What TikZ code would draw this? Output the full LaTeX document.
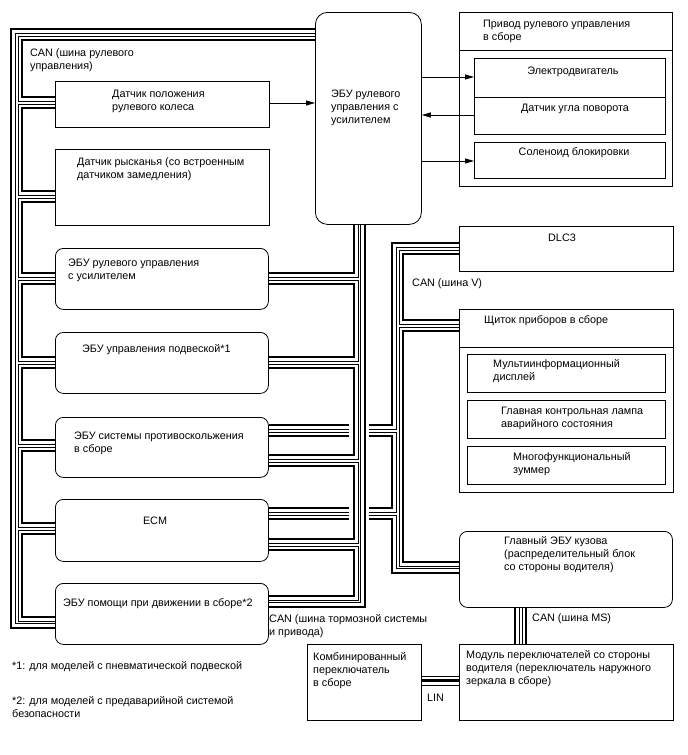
\documentclass[tikz,border=0pt]{standalone}
\usepackage{fontspec}
\setmainfont{Liberation Sans}
\usetikzlibrary{arrows.meta}
\begin{document}
\begin{tikzpicture}[x=1pt,y=-1pt,
  box/.style={draw,line width=0.8pt,inner sep=0pt,anchor=north west},
  rbox/.style={box,rounded corners=8pt},
  txt/.style={font=\fontsize{10.8}{12.8}\selectfont,align=left,inner sep=0pt,anchor=base west},
  ctxt/.style={font=\fontsize{10.8}{12.8}\selectfont,inner sep=0pt,anchor=base},
  thk/.style={line width=2.2pt},
  thn/.style={line width=0.7pt},
  arr/.style={line width=0.8pt,-{Triangle[length=9pt,width=5pt]}},
]
\useasboundingbox (0,0) rectangle (688,755);
\fill[white] (0,0) rectangle (688,755);

% ---------- boxes ----------
\node[box,rounded corners=12pt,minimum width=106pt,minimum height=212pt] (ecuS) at (315,12) {};
\node[box,minimum width=213pt,minimum height=174pt] (act) at (459,12) {};
\node[box,minimum width=191pt,minimum height=39pt] (motor) at (474,58) {};
\node[box,minimum width=191pt,minimum height=37pt] (angle) at (474,97) {};
\node[box,minimum width=191pt,minimum height=36pt] (sol) at (474,142) {};
\node[box,minimum width=214pt,minimum height=46pt] (sw) at (55,81) {};
\node[box,minimum width=214pt,minimum height=76pt] (yaw) at (55,149) {};
\node[rbox,minimum width=213pt,minimum height=61pt] (ps) at (55,248) {};
\node[rbox,minimum width=213pt,minimum height=61pt] (susp) at (55,332) {};
\node[rbox,minimum width=213pt,minimum height=60pt] (abs) at (55,417) {};
\node[rbox,minimum width=213pt,minimum height=62pt] (ecm) at (55,499) {};
\node[rbox,minimum width=213pt,minimum height=61pt] (drv) at (55,583) {};
\node[box,minimum width=214pt,minimum height=45pt] (dlc) at (459,226) {};
\node[box,minimum width=214pt,minimum height=183pt] (meter) at (459,309) {};
\node[box,minimum width=198pt,minimum height=38pt] (multi) at (467,354) {};
\node[box,minimum width=198pt,minimum height=38pt] (lamp) at (467,400) {};
\node[box,minimum width=198pt,minimum height=38pt] (buzz) at (467,446) {};
\node[rbox,minimum width=213pt,minimum height=76pt] (body) at (459,531) {};
\node[box,minimum width=214pt,minimum height=76pt] (swmod) at (459,644) {};
\node[box,minimum width=114pt,minimum height=76pt] (comb) at (307,644) {};
\draw[line width=0.8pt] (act.west|-0,50) -- (act.east|-0,50);
\draw[line width=0.8pt] (meter.west|-0,347) -- (meter.east|-0,347);

% ---------- texts (base = baseline of last line) ----------
\node[txt] (tCanS) at (30,69.5) {CAN (шина рулевого\\управления)};
\node[txt] (tEcuS) at (331,123.5) {ЭБУ рулевого\\управления с\\усилителем};
\node[txt] (tAct) at (483,40.5) {Привод рулевого управления\\в сборе};
\node[ctxt] (tMotor) at (573,74) {Электродвигатель};
\node[ctxt] (tAngle) at (575,111) {Датчик угла поворота};
\node[ctxt] (tSol) at (574,155) {Соленоид блокировки};
\node[txt] (tSw) at (112,110.5) {Датчик положения\\рулевого колеса};
\node[txt] (tYaw) at (77,178) {Датчик рысканья (со встроенным\\датчиком замедления)};
\node[txt] (tPs) at (68,279) {ЭБУ рулевого управления\\с усилителем};
\node[txt] (tSusp) at (82,352) {ЭБУ управления подвеской*1};
\node[txt] (tAbs) at (74,452.5) {ЭБУ системы противоскольжения\\в сборе};
\node[ctxt] (tEcm) at (155,524) {ECM};
\node[txt] (tDrv) at (63,606) {ЭБУ помощи при движении в сборе*2};
\node[txt] (tCanB) at (269,635) {CAN (шина тормозной системы\\и привода)};
\node[txt] (tFn1) at (12,669) {*1: для моделей с пневматической подвеской};
\node[txt] (tFn2) at (12,717) {*2: для моделей с предаварийной системой\\безопасности};
\node[ctxt] (tDlc) at (562,241) {DLC3};
\node[txt] (tCanV) at (412,286) {CAN (шина V)};
\node[txt] (tMeter) at (484,323) {Щиток приборов в сборе};
\node[txt] (tMulti) at (493,380) {Мультиинформационный\\дисплей};
\node[txt] (tLamp) at (501,427.5) {Главная контрольная лампа\\аварийного состояния};
\node[txt] (tBuzz) at (513,473.5) {Многофункциональный\\зуммер};
\node[txt] (tBody) at (504,570.5) {Главный ЭБУ кузова\\(распределительный блок\\со стороны водителя)};
\node[txt] (tCanMS) at (532,621) {CAN (шина MS)};
\node[txt] (tSwmod) at (466,684) {Модуль переключателей со стороны\\водителя (переключатель наружного\\зеркала в сборе)};
\node[txt] (tComb) at (313,686.5) {Комбинированный\\переключатель\\в сборе};
\node[txt] (tLin) at (427,701) {LIN};

% ---------- arrows ----------
\draw[arr] (sw.east|-0,103) -- (ecuS.west|-0,103);
\draw[arr] (ecuS.east|-0,77) -- (motor.west|-0,77);
\draw[arr] (angle.west|-0,115) -- (ecuS.east|-0,115);
\draw[arr] (ecuS.east|-0,161) -- (sol.west|-0,161);

% ---------- left bus (steering CAN) ----------
\draw[thk] (ecuS.west|-0,29) -| (11,628) -- (drv.west|-0,628);
\draw[thn] (ecuS.west|-0,33.5) -| (15.5,623.5) -- (drv.west|-0,623.5);
\draw[thn] (ecuS.west|-0,36) -| (18,101.5) -- (sw.west|-0,101.5);
\draw[thk] (ecuS.west|-0,40) -| (22,97) -- (sw.west|-0,97);
\foreach \a/\b/\s/\t in {sw/yaw/97/191, yaw/ps/191/273, ps/susp/273/357, susp/abs/357/440, abs/ecm/440/523}{
  \draw[thn] (\a.west|-0,\s+7) -| (18,\t+4.5) -- (\b.west|-0,\t+4.5);
  \draw[thk] (\a.west|-0,\s+11) -| (22,\t) -- (\b.west|-0,\t);
}
\draw[thn] (ecm.west|-0,530) -| (18,621) -- (drv.west|-0,621);
\draw[thk] (ecm.west|-0,534) -| (22,617) -- (drv.west|-0,617);

% ---------- middle bus (brake / drive CAN) ----------
\draw[thk] (ecuS.south-|365,0) |- (drv.east|-0,607);
\draw[thn] (ecuS.south-|360.5,0) |- (drv.east|-0,602.5);
\draw[thn] (ecuS.south-|358,0) |- (ps.east|-0,277.5);
\draw[thk] (ecuS.south-|354,0) |- (ps.east|-0,273);
\foreach \a/\b/\s/\t in {ps/susp/273/357, susp/abs/357/455, abs/ecm/455/539}{
  \draw[thn] (\a.east|-0,\s+7) -| (358,\t+4.5) -- (\b.east|-0,\t+4.5);
  \draw[thk] (\a.east|-0,\s+11) -| (354,\t) -- (\b.east|-0,\t);
}
\draw[thn] (ecm.east|-0,546) -| (358,600) -- (drv.east|-0,600);
\draw[thk] (ecm.east|-0,550) -| (354,596) -- (drv.east|-0,596);

% ---------- right bus (CAN V) ----------
\draw[thk] (dlc.west|-0,254) -| (403,320) -- (meter.west|-0,320);
\draw[thk] (meter.west|-0,331) -| (403,562) -- (body.west|-0,562);
\draw[thn] (dlc.west|-0,250) -| (399,324.5) -- (meter.west|-0,324.5);
\draw[thn] (meter.west|-0,327) -| (399,566) -- (body.west|-0,566);
\draw[thn] (dlc.west|-0,247.5) -| (396.5,429.5) -- (369,429.5);
\draw[thn] (349,429.5) -- (abs.east|-0,429.5);
\draw[thn] (abs.east|-0,432) -- (349,432);
\draw[thn] (369,432) -| (396.5,512.5) -- (369,512.5);
\draw[thn] (349,512.5) -- (ecm.east|-0,512.5);
\draw[thn] (ecm.east|-0,515) -- (349,515);
\draw[thn] (369,515) -| (396.5,568.5) -- (body.west|-0,568.5);
\draw[thk] (dlc.west|-0,243) -| (392,425) -- (369,425);
\draw[thk] (349,425) -- (abs.east|-0,425);
\draw[thk] (abs.east|-0,436) -- (349,436);
\draw[thk] (369,436) -| (392,508) -- (369,508);
\draw[thk] (349,508) -- (ecm.east|-0,508);
\draw[thk] (ecm.east|-0,519) -- (349,519);
\draw[thk] (369,519) -| (392,573) -- (body.west|-0,573);

% ---------- MS bus ----------
\draw[thk] (body.south-|515,0) -- (swmod.north-|515,0);
\draw[thn] (body.south-|519.5,0) -- (swmod.north-|519.5,0);
\draw[thn] (body.south-|522,0) -- (swmod.north-|522,0);
\draw[thk] (body.south-|526,0) -- (swmod.north-|526,0);

% ---------- LIN ----------
\draw[thn] (comb.east|-0,676) -- (swmod.west|-0,676);
\draw[thk] (comb.east|-0,680.5) -- (swmod.west|-0,680.5);
\draw[thn] (comb.east|-0,685) -- (swmod.west|-0,685);
\end{tikzpicture}
\end{document}
